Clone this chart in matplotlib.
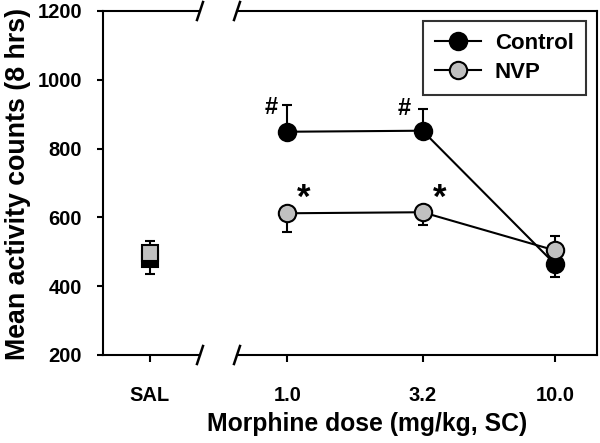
import matplotlib
matplotlib.use("Agg")
import matplotlib.pyplot as plt
import numpy as np

plt.rcParams['font.family'] = ['Liberation Sans', 'DejaVu Sans']
plt.rcParams['font.weight'] = 'bold'

# ---- data ----
doses = [1.0, 3.2, 10.0]
dose_labels = ['1.0', '3.2', '10.0']
sal_label = 'SAL'

control_sal = 478
control_sal_err = [43, 0]          # [lower, upper]
nvp_sal = 496
nvp_sal_err = [0, 35]

control_vals = [849, 852, 464]
control_err_lo = [0, 0, 38]
control_err_hi = [77, 63, 0]

nvp_vals = [612, 615, 504]
nvp_err_lo = [55, 36, 0]
nvp_err_hi = [0, 0, 41]

y_ticks = [200, 400, 600, 800, 1000, 1200]

W, H = 600, 443
fig = plt.figure(figsize=(W/100, H/100), dpi=100)

def px2fig(x0, x1, y0, y1):
    return [x0 / W, 1 - y1 / H, (x1 - x0) / W, (y1 - y0) / H]

axL = fig.add_axes(px2fig(103, 200, 11, 355))
axR = fig.add_axes(px2fig(237, 597, 11, 355))

lw = 1.5
ms = 12.5
cap = 3.5

for ax in (axL, axR):
    ax.set_ylim(200, 1200)
    for s in ax.spines.values():
        s.set_linewidth(lw)
    ax.tick_params(width=lw, length=4, direction='out', labelsize=14.5)

# left axis (SAL)
axL.set_xlim(-0.48, 0.52)
axL.spines['right'].set_visible(False)
axL.set_xticks([0])
axL.set_xticklabels([sal_label], fontweight='bold')
axL.set_yticks(y_ticks)
axL.set_yticklabels([str(v) for v in y_ticks], fontweight='bold')
axL.tick_params(axis='x', length=5, pad=17)
axL.tick_params(axis='y', pad=11)

axL.errorbar([0], [control_sal], yerr=[[control_sal_err[0]], [control_sal_err[1]]],
             fmt='s', color='black', mfc='black', mec='black', ms=ms - 0.5, mew=lw,
             ecolor='black', elinewidth=lw, capsize=cap, capthick=lw, zorder=3)
axL.errorbar([0], [nvp_sal], yerr=[[nvp_sal_err[0]], [nvp_sal_err[1]]],
             fmt='s', color='black', mfc='#c0c0c0', mec='black', ms=ms - 0.5, mew=lw,
             ecolor='black', elinewidth=lw, capsize=cap, capthick=lw, zorder=4)

# right axis (doses)
axR.set_xscale('log')
axR.set_xlim(0.649, 14.35)
axR.spines['left'].set_visible(False)
axR.set_yticks([])
axR.set_xticks(doses)
axR.set_xticklabels(dose_labels, fontweight='bold')
axR.xaxis.set_minor_locator(matplotlib.ticker.NullLocator())
axR.tick_params(axis='x', length=5, pad=17)

axR.errorbar(doses, control_vals, yerr=[control_err_lo, control_err_hi],
             fmt='-o', color='black', mfc='black', mec='black', ms=ms, mew=lw,
             lw=lw, ecolor='black', elinewidth=lw, capsize=cap, capthick=lw,
             zorder=3, label='Control')
axR.errorbar(doses, nvp_vals, yerr=[nvp_err_lo, nvp_err_hi],
             fmt='-o', color='black', mfc='#c0c0c0', mec='black', ms=ms, mew=lw,
             lw=lw, ecolor='black', elinewidth=lw, capsize=cap, capthick=lw,
             zorder=4, label='NVP')

# significance marks
axR.text(0.874, 920, '#', ha='center', va='center', fontsize=17, fontweight='bold')
axR.text(2.73, 916, '#', ha='center', va='center', fontsize=17, fontweight='bold')
axR.text(1.154, 655, '*', ha='center', va='center', fontsize=25, fontweight='bold')
axR.text(3.70, 655, '*', ha='center', va='center', fontsize=25, fontweight='bold')

# legend
handles, labels = axR.get_legend_handles_labels()
handles = [h[0] for h in handles]
leg = axR.legend(handles, labels, loc='upper right', bbox_to_anchor=(0.969, 0.971),
                 borderaxespad=0, frameon=True, fancybox=False, edgecolor='black',
                 prop={'weight': 'bold', 'size': 16}, handlelength=2.1,
                 borderpad=0.55, labelspacing=0.35, handletextpad=0.6)
leg.get_frame().set_linewidth(lw)

# break marks
def brk(x_px, y_px):
    fig.add_artist(plt.Line2D([(x_px - 3) / W, (x_px + 3) / W],
                              [1 - (y_px + 9) / H, 1 - (y_px - 9) / H],
                              color='black', lw=lw + 0.3))
for xp in (200, 237):
    for yp in (11, 355):
        brk(xp, yp)

fig.text(18 / W, 1 - 184 / H, 'Mean activity counts (8 hrs)', rotation=90,
         ha='center', va='center', fontsize=19.3, fontweight='bold')
fig.text(367 / W, 1 - 424 / H, 'Morphine dose (mg/kg, SC)',
         ha='center', va='center', fontsize=17.8, fontweight='bold')

fig.savefig('out.png', dpi=100)
